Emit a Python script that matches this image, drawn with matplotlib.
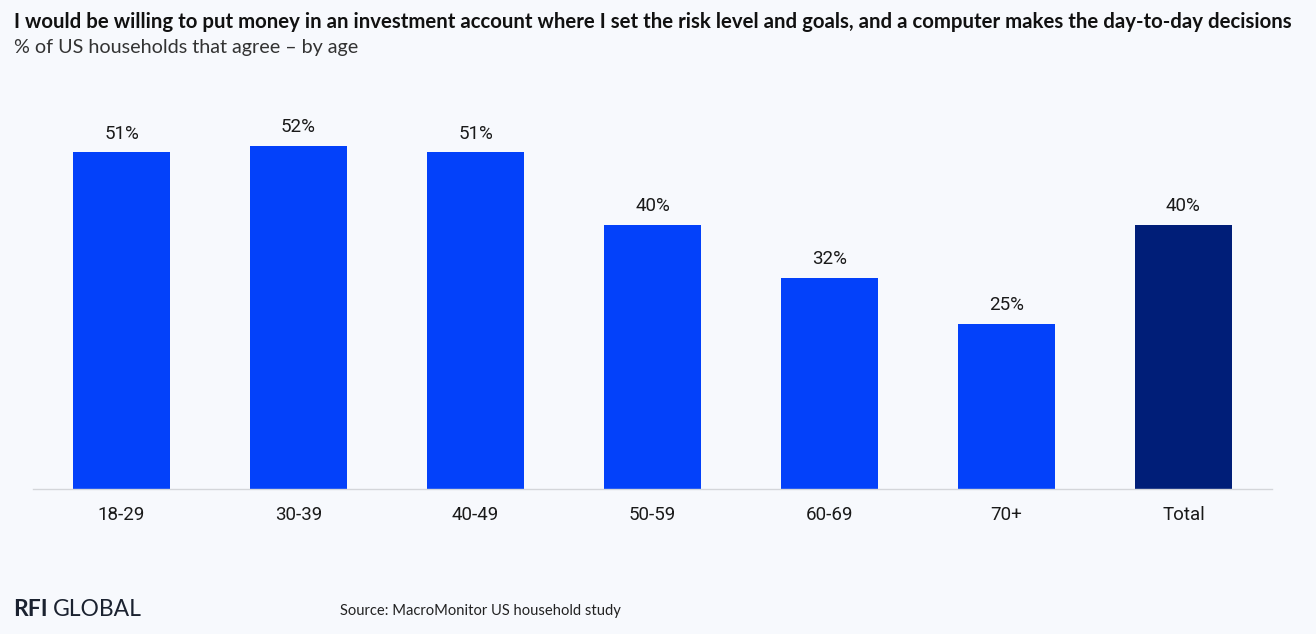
import matplotlib.pyplot as plt

ages = ['18-29', '30-39', '40-49', '50-59', '60-69', '70+', 'Total']
agree = [51, 52, 51, 40, 32, 25, 40]

bg = '#f7f9fd'
blue = '#0341fa'
navy = '#001e78'
colors = [blue] * 6 + [navy]

fig = plt.figure(figsize=(13.16, 6.34), dpi=100, facecolor=bg)
ax = fig.add_axes([33 / 1316, 1 - 489 / 634, (1272 - 33) / 1316, 396 / 634])
ax.set_facecolor(bg)

bars = ax.bar(range(len(ages)), agree, width=0.548, color=colors)
for b, v in zip(bars, agree):
    ax.annotate('%d%%' % v, (b.get_x() + b.get_width() / 2, v),
                xytext=(0, 7), textcoords='offset points', ha='center', va='bottom',
                fontsize=13.5, family='Roboto', color='#1a1a1a')

ax.set_xlim(-0.5, 6.5)
ax.set_ylim(0, 60)
ax.set_yticks([])
ax.set_xticks(range(len(ages)))
ax.set_xticklabels(ages, fontsize=13.5, family='Roboto', color='#1a1a1a')
ax.tick_params(axis='x', length=0, pad=12)
for s in ['top', 'right', 'left']:
    ax.spines[s].set_visible(False)
ax.spines['bottom'].set_color('#d4d6da')
ax.spines['bottom'].set_linewidth(1)

fig.text(14 / 1316, 1 - 22 / 634,
         'I would be willing to put money in an investment account where I set the risk level and goals, '
         'and a computer makes the day-to-day decisions',
         fontsize=14.7, fontweight='bold', family='Lato', color='#111111', va='center')
fig.text(14 / 1316, 1 - 47 / 634, '% of US households that agree \u2013 by age',
         fontsize=14.2, family='Lato', color='#333333', va='center')

fig.text(13 / 1316, 1 - 610 / 634, 'RFI', fontsize=16.5, fontweight='bold', family='Lato',
         color='#1b2230', va='center')
fig.text(53 / 1316, 1 - 610 / 634, 'GLOBAL', fontsize=16.5, family='Lato',
         color='#1b2230', va='center')
fig.text(340 / 1316, 1 - 611 / 634, 'Source: MacroMonitor US household study',
         fontsize=10.6, family='Lato', color='#222222', va='center')

fig.savefig('out.png', dpi=100, facecolor=bg)
